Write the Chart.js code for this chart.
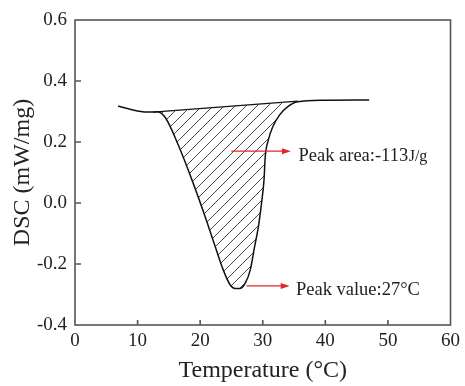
<!DOCTYPE html>
<html><head><meta charset="utf-8">
<script src="https://cdn.jsdelivr.net/npm/chart.js@4/dist/chart.umd.min.js"></script>
<style>html,body{margin:0;padding:0;background:#fff}#wrap{width:465px;height:386px}</style>
</head><body><div id="wrap"><canvas id="c" width="465" height="386"></canvas></div>
<script>
// ---- data ----
const temperature = [6.9, 8.5, 10.0, 11.1, 12.2, 13.2, 14.5, 16.6, 18.7, 20.8, 22.4, 23.7, 24.8, 25.6, 26.4, 27.2, 28.0, 28.7, 29.3, 29.8, 30.2, 30.4, 30.9, 31.6, 32.7, 34.0, 35.6, 40.0, 47.0];
const dsc = [0.318, 0.309, 0.302, 0.298, 0.298, 0.299, 0.278, 0.185, 0.075, -0.045, -0.143, -0.220, -0.269, -0.280, -0.280, -0.263, -0.220, -0.143, -0.078, -0.001, 0.075, 0.152, 0.207, 0.250, 0.289, 0.316, 0.332, 0.337, 0.338];
const baselineT = [12.5, 35.6];
const baselineDsc = [0.298, 0.334];
const xTickValues = [0, 10, 20, 30, 40, 50, 60];
const yTickValues = [-0.4, -0.2, 0.0, 0.2, 0.4, 0.6];
const annotationTexts = ['Peak area:-113', 'Peak value:27\u00B0C'];
const annotationUnits = ['J/g', ''];
const arrowFromT = [25.0, 27.4];
const arrowToT = [34.5, 34.3];
const arrowDsc = [0.170, -0.272];
const labelT = [35.7, 35.3];

const SERIF = 'Liberation Serif';

function hatchPattern() {
  const s = 11;
  const cv = document.createElement('canvas');
  cv.width = s; cv.height = s;
  const g = cv.getContext('2d');
  g.strokeStyle = '#333';
  g.lineWidth = 0.9;
  g.beginPath();
  g.moveTo(-1, s + 1); g.lineTo(s + 1, -1);
  g.moveTo(-2, 1); g.lineTo(1, -2);
  g.moveTo(s - 1, s + 2); g.lineTo(s + 2, s - 1);
  g.stroke();
  return g.createPattern(cv, 'repeat');
}

const curvePts = temperature.map((t, i) => ({x: t, y: dsc[i]}));
const basePts = baselineT.map((t, i) => ({x: t, y: baselineDsc[i]}));

const framePlugin = {
  id: 'frame',
  afterDraw(chart) {
    const {ctx, chartArea: a, scales} = chart;
    ctx.save();
    ctx.strokeStyle = '#555';
    ctx.lineWidth = 1.6;
    ctx.strokeRect(a.left, a.top, a.right - a.left, a.bottom - a.top);
    // inward ticks
    ctx.beginPath();
    scales.x.ticks.forEach(tk => {
      if (tk.value <= scales.x.min || tk.value >= scales.x.max) return;
      const px = scales.x.getPixelForValue(tk.value);
      ctx.moveTo(px, a.bottom); ctx.lineTo(px, a.bottom - 5);
    });
    scales.y.ticks.forEach(tk => {
      if (tk.value <= scales.y.min + 1e-9 || tk.value >= scales.y.max - 1e-9) return;
      const py = scales.y.getPixelForValue(tk.value);
      ctx.moveTo(a.left, py); ctx.lineTo(a.left + 6, py);
    });
    ctx.stroke();
    // annotations
    for (let i = 0; i < annotationTexts.length; i++) {
      const x0 = scales.x.getPixelForValue(arrowFromT[i]);
      const x1 = scales.x.getPixelForValue(arrowToT[i]);
      const y = scales.y.getPixelForValue(arrowDsc[i]);
      ctx.strokeStyle = '#e4262a';
      ctx.fillStyle = '#e4262a';
      ctx.lineWidth = 1.3;
      ctx.beginPath();
      ctx.moveTo(x0, y); ctx.lineTo(x1 - 6, y);
      ctx.stroke();
      ctx.beginPath();
      ctx.moveTo(x1, y); ctx.lineTo(x1 - 9, y - 3); ctx.lineTo(x1 - 9, y + 3); ctx.closePath();
      ctx.fill();
      const lx = scales.x.getPixelForValue(labelT[i]);
      ctx.fillStyle = '#222';
      ctx.textBaseline = 'alphabetic';
      ctx.textAlign = 'left';
      ctx.font = '18.5px "Liberation Serif"';
      ctx.fillText(annotationTexts[i], lx, y + 9.5);
      if (annotationUnits[i]) {
        const w = ctx.measureText(annotationTexts[i]).width;
        ctx.font = '16px "Liberation Serif"';
        ctx.fillText(annotationUnits[i], lx + w + 0.5, y + 9.5);
      }
    }
    ctx.restore();
  }
};

new Chart(document.getElementById('c'), {
  type: 'line',
  data: {
    datasets: [
      {
        label: 'DSC',
        data: curvePts,
        borderColor: '#111',
        borderWidth: 1.5,
        pointRadius: 0,
        cubicInterpolationMode: 'monotone',
        backgroundColor: hatchPattern(),
        fill: {target: 1}
      },
      {
        label: 'Baseline',
        data: basePts,
        borderColor: '#111',
        borderWidth: 1.2,
        pointRadius: 0,
        fill: false
      }
    ]
  },
  options: {
    responsive: false,
    animation: false,
    devicePixelRatio: 1,
    layout: {padding: {top: 20, right: 12, left: 0, bottom: 0}},
    plugins: {legend: {display: false}, tooltip: {enabled: false}},
    scales: {
      x: {
        type: 'linear', min: 0, max: 60,
        afterBuildTicks: s => { s.ticks = xTickValues.map(v => ({value: v})); },
        afterFit: s => { s.height = 61; },
        grid: {display: false, drawTicks: false},
        border: {display: false},
        ticks: {padding: 5, color: '#222', font: {family: SERIF, size: 19}, maxRotation: 0,
                callback: v => String(v)},
        title: {display: true, text: 'Temperature (\u00B0C)', color: '#222',
                font: {family: SERIF, size: 24}, padding: {top: 0, bottom: 1}}
      },
      y: {
        type: 'linear', min: -0.4, max: 0.6,
        afterBuildTicks: s => { s.ticks = yTickValues.map(v => ({value: v})); },
        afterFit: s => { s.width = 75; },
        grid: {display: false, drawTicks: false},
        border: {display: false},
        ticks: {padding: 8, color: '#222', font: {family: SERIF, size: 19},
                callback: v => Number(v).toFixed(1)},
        title: {display: true, text: 'DSC (mW/mg)', color: '#222',
                font: {family: SERIF, size: 24}, padding: {top: 8, bottom: 0}}
      }
    }
  },
  plugins: [framePlugin]
});
</script>
</body></html>
